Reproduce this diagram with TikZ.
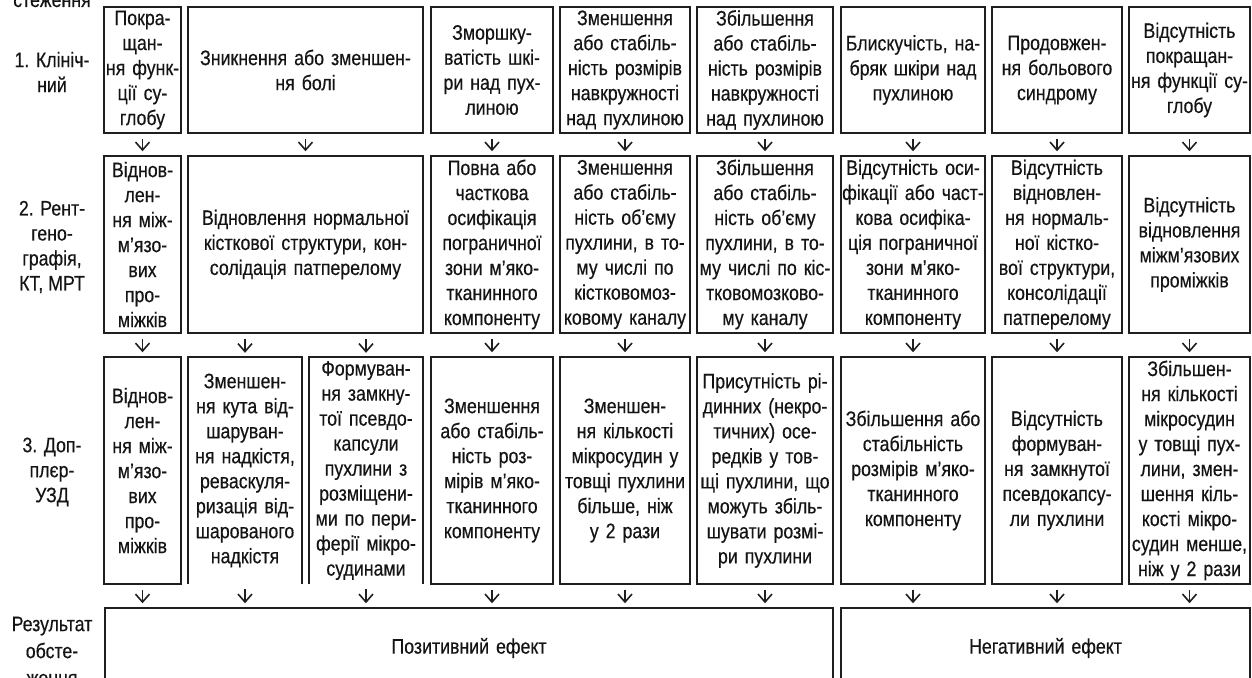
\documentclass[tikz,border=0pt]{standalone}
\usepackage{fontspec}
\setmainfont{Liberation Sans}[FakeStretch=0.845,FakeBold=0.4]
\usetikzlibrary{arrows.meta}
\newcommand{\boxfont}{\fontsize{21}{25}\selectfont}
\newcommand{\labfont}{\fontsize{21}{25}\selectfont}
\newcommand{\reslabfont}{\fontsize{21}{27}\selectfont}
% \cellbox{name}{x1}{x2}{y1}{y2}{style}{text}
\newcommand{\cellbox}[7]{%
  \pgfmathsetmacro{\cbW}{#3-#2}\pgfmathsetmacro{\cbH}{#5-#4}%
  \pgfmathsetmacro{\cbX}{(#2+#3)/2}\pgfmathsetmacro{\cbY}{(#4+#5)/2}%
  \pgfmathsetmacro{\cbT}{#3-#2-1}%
  \node[#6, minimum width=\cbW pt, minimum height=\cbH pt, text width=\cbT pt] (#1) at (\cbX,\cbY) {#7};}
\begin{document}
\begin{tikzpicture}[x=1pt,y=-1pt,
  box/.style={draw=black!88, line width=1.5pt, inner sep=0pt, align=center, font=\boxfont, text=black!92},
  openbox/.style={draw=none, inner sep=0pt, align=center, font=\boxfont, text=black!92},
  boxline/.style={draw=black!88, line width=1.5pt},
  lab/.style={align=center, font=\labfont, inner sep=0pt, text=black!92},
  arr/.style={draw=black!88, line width=1.6pt, -{Straight Barb[length=8pt,width=14pt,line width=1.6pt]}, shorten <=5pt, shorten >=4pt},
]
\useasboundingbox (0,0) rectangle (1252,677);
\clip (0,0) rectangle (1252,677);
\fill[white] (0,0) rectangle (1252,677);

% left labels
\node[lab, anchor=base] (l0) at (52,7) {стеження};
\node[lab] (l1) at (52,72) {1. Клініч-\\ний};
\node[lab] (l2) at (52,247) {2. Рент-\\гено-\\графія,\\КТ, МРТ};
\node[lab] (l3) at (52,472) {3. Доп-\\плєр-\\УЗД};
\node[lab, font=\reslabfont] (l4) at (52,651) {Результат\\обсте-\\ження};

% row 1
\cellbox{a1}{104}{181}{7}{133}{box}{Покра-\\щан-\\ня функ-\\ції су-\\глобу}
\cellbox{a23}{188}{423}{7}{133}{box}{Зникнення або зменшен-\\ня болі}
\cellbox{a4}{431}{553}{7}{133}{box}{Зморшку-\\ватість шкі-\\ри над пух-\\линою}
\cellbox{a5}{560}{690}{7}{133}{box}{Зменшення\\або стабіль-\\ність розмірів\\навкружності\\над пухлиною}
\cellbox{a6}{697}{833}{7}{133}{box}{Збільшення\\або стабіль-\\ність розмірів\\навкружності\\над пухлиною}
\cellbox{a7}{841}{985}{7}{133}{box}{Блискучість, на-\\бряк шкіри над\\пухлиною}
\cellbox{a8}{992}{1122}{7}{133}{box}{Продовжен-\\ня больового\\синдрому}
\cellbox{a9}{1129}{1250}{7}{133}{box}{Відсутність\\покращан-\\ня функції су-\\глобу}

% row 2
\cellbox{b1}{104}{181}{156}{333}{box}{Віднов-\\лен-\\ня між-\\м’язо-\\вих\\про-\\міжків}
\cellbox{b23}{188}{423}{156}{333}{box}{Відновлення нормальної\\кісткової структури, кон-\\солідація патперелому}
\cellbox{b4}{431}{553}{156}{333}{box}{Повна або\\часткова\\осифікація\\пограничної\\зони м’яко-\\тканинного\\компоненту}
\cellbox{b5}{560}{690}{156}{333}{box}{Зменшення\\або стабіль-\\ність об’єму\\пухлини, в то-\\му числі по\\кістковомоз-\\ковому каналу}
\cellbox{b6}{697}{833}{156}{333}{box}{Збільшення\\або стабіль-\\ність об’єму\\пухлини, в то-\\му числі по кіс-\\тковомозково-\\му каналу}
\cellbox{b7}{841}{985}{156}{333}{box}{Відсутність оси-\\фікації або част-\\кова осифіка-\\ція пограничної\\зони м’яко-\\тканинного\\компоненту}
\cellbox{b8}{992}{1122}{156}{333}{box}{Відсутність\\відновлен-\\ня нормаль-\\ної кістко-\\вої структури,\\консолідації\\патперелому}
\cellbox{b9}{1129}{1250}{156}{333}{box}{Відсутність\\відновлення\\міжм’язових\\проміжків}

% row 3
\cellbox{c1}{104}{181}{357}{584}{box}{Віднов-\\лен-\\ня між-\\м’язо-\\вих\\про-\\міжків}
\cellbox{c2}{188}{302}{357}{584}{openbox}{Зменшен-\\ня кута від-\\шаруван-\\ня надкістя,\\реваскуля-\\ризація від-\\шарованого\\надкістя}
\cellbox{c3}{309}{423}{357}{584}{openbox}{Формуван-\\ня замкну-\\тої псевдо-\\капсули\\пухлини з\\розміщени-\\ми по пери-\\ферії мікро-\\судинами}
\cellbox{c4}{431}{553}{357}{584}{box}{Зменшення\\або стабіль-\\ність роз-\\мірів м’яко-\\тканинного\\компоненту}
\cellbox{c5}{560}{690}{357}{584}{box}{Зменшен-\\ня кількості\\мікросудин у\\товщі пухлини\\більше, ніж\\у 2 рази}
\cellbox{c6}{697}{833}{357}{584}{box}{Присутність рі-\\динних (некро-\\тичних) осе-\\редків у тов-\\щі пухлини, що\\можуть збіль-\\шувати розмі-\\ри пухлини}
\cellbox{c7}{841}{985}{357}{584}{box}{Збільшення або\\стабільність\\розмірів м’яко-\\тканинного\\компоненту}
\cellbox{c8}{992}{1122}{357}{584}{box}{Відсутність\\формуван-\\ня замкнутої\\псевдокапсу-\\ли пухлини}
\cellbox{c9}{1129}{1250}{357}{584}{box}{Збільшен-\\ня кількості\\мікросудин\\у товщі пух-\\лини, змен-\\шення кіль-\\кості мікро-\\судин менше,\\ніж у 2 рази}
\draw[boxline] (c2.south west) -- (c2.north west) -- (c2.north east) -- (c2.south east);
\draw[boxline] (c3.south west) -- (c3.north west) -- (c3.north east) -- (c3.south east);

% result row
\cellbox{pos}{105}{833}{608}{688}{box}{Позитивний ефект}
\cellbox{neg}{841}{1250}{608}{688}{box}{Негативний ефект}

% arrows row1 -> row2
\foreach \n in {1,23,4,5,6,7,8,9} {\draw[arr] (a\n.south) -- (b\n.north);}
% arrows row2 -> row3
\draw[arr] (b1.south) -- (c1.north);
\draw[arr] (c2.north |- b23.south) -- (c2.north);
\draw[arr] (c3.north |- b23.south) -- (c3.north);
\foreach \n in {4,5,6,7,8,9} {\draw[arr] (b\n.south) -- (c\n.north);}
% arrows row3 -> result
\foreach \n in {1,2,3,4,5,6} {\draw[arr] (c\n.south) -- (c\n.south |- pos.north);}
\foreach \n in {7,8,9} {\draw[arr] (c\n.south) -- (c\n.south |- neg.north);}
\end{tikzpicture}
\end{document}
